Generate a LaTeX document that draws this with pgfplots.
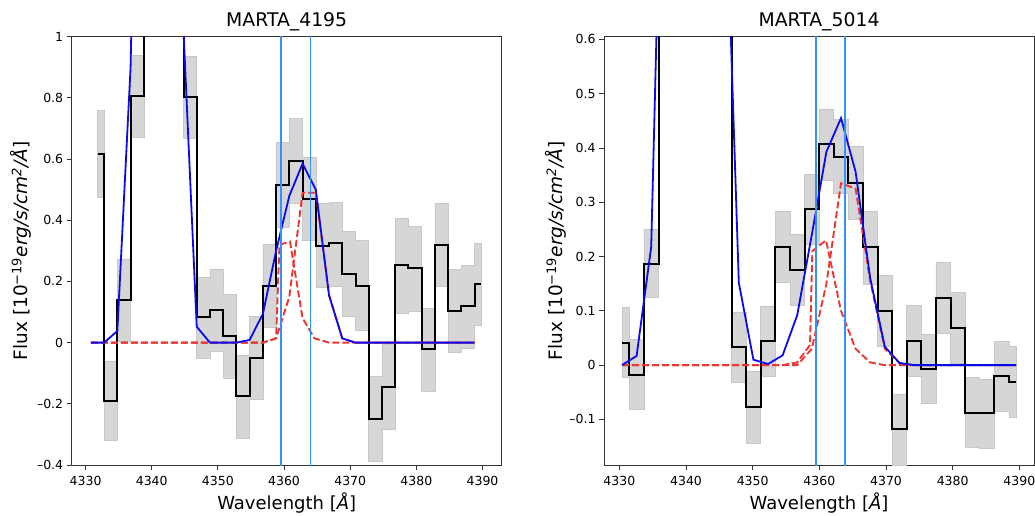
\documentclass[border=0pt]{standalone}
\usepackage{fontspec}
\setmainfont{DejaVu Sans}
\usepackage{pgfplots}
\pgfplotsset{compat=1.18}
\usepgfplotslibrary{fillbetween}
\usepackage{pgfplotstable}

\definecolor{band}{RGB}{214,214,214}
\definecolor{bandedge}{RGB}{200,200,200}
\definecolor{vline}{RGB}{51,145,255}
\definecolor{mred}{RGB}{235,55,50}
\definecolor{mblue}{RGB}{10,10,240}

% ---------- left panel: MARTA_4195 (x = left edge of each bin, last row = right end) ----------
\pgfplotstableread{
x y lo hi
4331.8 0.617 0.475 0.758
4332.8 -0.190 -0.320 -0.060
4334.8 0.140 0.003 0.274
4336.8 0.806 0.670 0.940
4338.8 1.600 1.450 1.750
4340.8 2.200 2.050 2.350
4342.8 1.800 1.650 1.950
4344.8 0.804 0.668 0.937
4346.8 0.083 -0.051 0.214
4348.8 0.107 -0.027 0.241
4350.8 0.022 -0.117 0.158
4352.8 -0.176 -0.313 -0.042
4354.8 -0.049 -0.185 0.085
4356.8 0.186 0.050 0.322
4358.8 0.515 0.376 0.654
4360.8 0.595 0.456 0.733
4362.8 0.469 0.333 0.606
4364.8 0.316 0.181 0.456
4366.8 0.325 0.183 0.459
4368.8 0.225 0.085 0.364
4370.8 0.186 0.041 0.333
4372.8 -0.249 -0.389 -0.111
4374.8 -0.146 -0.283 -0.005
4376.8 0.253 0.096 0.405
4378.8 0.243 0.101 0.381
4380.8 -0.022 -0.160 0.112
4382.8 0.319 0.183 0.456
4384.8 0.103 -0.033 0.240
4386.8 0.120 -0.018 0.254
4388.8 0.192 0.056 0.325
4389.8 0.192 0.056 0.325
}\dataL

\pgfplotstableread{
x y
4330.8 0
4332.8 0
4334.8 0.038
4336.8 0.90
4338.8 3.0
4340.8 4.0
4342.8 3.0
4344.8 1.02
4346.8 0.052
4348.8 0
4350.8 0
4352.8 0
4354.8 0.009
4356.8 0.094
4358.8 0.30
4360.8 0.48
4362.8 0.585
4364.8 0.50
4366.8 0.155
4368.8 0.014
4370.8 0
4388.8 0
}\fitL

\pgfplotstableread{
x y
4330.8 0
4356.8 0
4358.8 0.014
4359.3 0.32
4360.9 0.33
4362.8 0.08
4364.6 0.014
4366.8 0
4388.8 0
}\gaLa

\pgfplotstableread{
x y
4330.8 0
4356.8 0
4358.8 0.014
4360.8 0.15
4362.8 0.49
4364.8 0.49
4366.8 0.155
4368.8 0.014
4370.8 0
4388.8 0
}\gaLb

% ---------- right panel: MARTA_5014 ----------
\pgfplotstableread{
x y lo hi
4330.400 0.041 -0.023 0.106
4331.495 -0.018 -0.081 0.047
4333.685 0.187 0.125 0.251
4335.875 1.500 1.430 1.570
4338.065 2.000 1.930 2.070
4340.255 2.200 2.130 2.270
4342.445 1.800 1.730 1.870
4344.635 1.000 0.930 1.070
4346.825 0.034 -0.032 0.098
4349.015 -0.078 -0.144 -0.012
4351.205 0.044 -0.021 0.109
4353.395 0.217 0.152 0.283
4355.585 0.176 0.111 0.241
4357.775 0.288 0.222 0.352
4359.965 0.407 0.340 0.472
4362.155 0.383 0.316 0.452
4364.345 0.336 0.269 0.404
4366.535 0.217 0.149 0.283
4368.725 0.100 0.035 0.165
4370.915 -0.117 -0.185 -0.054
4373.105 0.045 -0.021 0.111
4375.295 -0.008 -0.071 0.057
4377.485 0.124 0.058 0.189
4379.675 0.069 0.003 0.134
4381.865 -0.088 -0.152 -0.023
4384.055 -0.089 -0.154 -0.026
4386.245 -0.020 -0.085 0.043
4388.435 -0.031 -0.096 0.034
4389.530 -0.031 -0.096 0.034
}\dataR

\pgfplotstableread{
x y
4330.40 0
4332.59 0.017
4334.78 0.218
4336.97 1.30
4339.16 3.0
4341.35 4.0
4343.54 3.0
4345.73 0.98
4347.92 0.152
4350.11 0.010
4352.30 0.002
4354.49 0.018
4356.68 0.092
4358.87 0.240
4361.06 0.393
4363.25 0.455
4365.44 0.356
4367.63 0.160
4369.82 0.034
4372.01 0.004
4374.20 0
4389.53 0
}\fitR

\pgfplotstableread{
x y
4330.40 0
4354.49 0
4356.68 0.005
4358.60 0.037
4358.95 0.21
4361.00 0.23
4363.25 0.10
4365.44 0.030
4367.63 0.005
4369.82 0
4389.53 0
}\gaRa

\pgfplotstableread{
x y
4330.40 0
4356.68 0
4358.87 0.030
4361.06 0.150
4363.25 0.335
4365.44 0.325
4367.63 0.155
4369.82 0.030
4372.01 0.004
4374.20 0
4389.53 0
}\gaRb

\pgfplotsset{
  spec/.style={
    scale only axis, width=430pt, height=428.3pt,
    axis line style={black!80, line width=0.9pt},
    tick align=outside, tick pos=left,
    major tick length=5pt,
    every tick/.style={black!80, line width=0.9pt},
    xtick={4330,4340,4350,4360,4370,4380,4390},
    xticklabels={4330,4340,4350,4360,4370,4380,4390},
    tick label style={font=\fontsize{12.5}{15}\selectfont, black},
    xticklabel style={yshift=-3pt},
    title style={font=\fontsize{18.8}{22}\selectfont, at={(axis description cs:0.5,1)}, anchor=center, yshift=9pt},
    xlabel style={font=\fontsize{18}{21}\selectfont, at={(axis description cs:0.5,0)}, anchor=center, yshift=-38pt},
    ylabel style={font=\fontsize{18.5}{21}\selectfont, anchor=center},
    xlabel={Wavelength [\textit{Å}]},
    ylabel={Flux [10\textsuperscript{−19}\textit{erg/s/cm\textsuperscript{2}/Å}]},
    clip=true,
  },
  blk/.style={black, line width=2pt, const plot},
  fit/.style={mblue, line width=1.8pt},
  gau/.style={mred, line width=1.9pt, dash pattern=on 7pt off 3pt},
  vl/.style={vline, line width=1.8pt},
  bnd/.style={band, draw=bandedge, line width=0.6pt},
}

\begin{document}
\begin{tikzpicture}
% left
\begin{axis}[spec, at={(71.7pt,50pt)}, anchor=south west,
  xmin=4327.9, xmax=4392.9, ymin=-0.4, ymax=1,
  ytick={-0.4,-0.2,0,0.2,0.4,0.6,0.8,1},
  yticklabels={\textendash0.4,\textendash0.2,0,0.2,0.4,0.6,0.8,1},
  ylabel style={at={(axis description cs:-0.118,0.5)}},
  title={MARTA\_4195}]
\addplot[name path=hiL, draw=none, const plot] table[x=x,y=hi]{\dataL};
\addplot[name path=loL, draw=none, const plot] table[x=x,y=lo]{\dataL};
\addplot[bnd] fill between[of=hiL and loL];
\addplot[blk] table[x=x,y=y]{\dataL};
\addplot[gau] table[x=x,y=y]{\gaLa};
\addplot[gau] table[x=x,y=y]{\gaLb};
\addplot[fit] table[x=x,y=y]{\fitL};
\addplot[vl] coordinates {(4359.5,-1) (4359.5,2)};
\addplot[vl] coordinates {(4364.0,-1) (4364.0,2)};
\end{axis}
% right
\begin{axis}[spec, at={(604pt,50pt)}, anchor=south west,
  xmin=4327.7, xmax=4392.2, ymin=-0.184, ymax=0.605,
  ytick={-0.1,0,0.1,0.2,0.3,0.4,0.5,0.6},
  yticklabels={\textendash0.1,0,0.1,0.2,0.3,0.4,0.5,0.6},
  ylabel style={at={(axis description cs:-0.112,0.5)}},
  title={MARTA\_5014}]
\addplot[name path=hiR, draw=none, const plot] table[x=x,y=hi]{\dataR};
\addplot[name path=loR, draw=none, const plot] table[x=x,y=lo]{\dataR};
\addplot[bnd] fill between[of=hiR and loR];
\addplot[blk] table[x=x,y=y]{\dataR};
\addplot[gau] table[x=x,y=y]{\gaRa};
\addplot[gau] table[x=x,y=y]{\gaRb};
\addplot[fit] table[x=x,y=y]{\fitR};
\addplot[vl] coordinates {(4359.5,-1) (4359.5,2)};
\addplot[vl] coordinates {(4363.9,-1) (4363.9,2)};
\end{axis}
\pgfresetboundingbox
\path (0pt,0pt) rectangle (1035pt,515pt);
\end{tikzpicture}
\end{document}
